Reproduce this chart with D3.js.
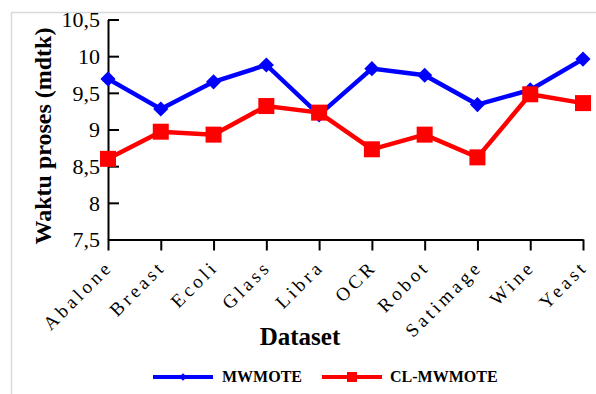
<!DOCTYPE html>
<html><head><meta charset="utf-8">
<script src="https://cdn.jsdelivr.net/npm/d3@7/dist/d3.min.js"></script>
<style>body{margin:0;background:#fff}svg{display:block;font-family:"Liberation Serif","Times New Roman",serif}</style>
</head><body><svg id="c" width="596" height="394"></svg>
<script>
const categories = ["Abalone","Breast","Ecoli","Glass","Libra","OCR","Robot","Satimage","Wine","Yeast"];
const mwmote = [9.69,9.28,9.65,9.88,9.20,9.83,9.74,9.34,9.54,9.96];
const clmwmote = [8.60,8.97,8.93,9.32,9.23,8.73,8.93,8.62,9.48,9.36];
const yTicks = [7.5,8,8.5,9,9.5,10,10.5];
const seriesNames = ["MWMOTE","CL-MWMOTE"];

const svg = d3.select("#c");
// frame
svg.append("path").attr("d","M11.5,394V12.5H596").attr("fill","none").attr("stroke","#d9d9d9").attr("stroke-width",1.5);

const x = d3.scalePoint().domain(categories).range([108,583]).padding(0);
const y = d3.scaleLinear().domain([7.5,10.5]).range([239.5,19.5]);
const fmt = d => String(d).replace(".",",");

// y axis
const ya = svg.append("g").attr("transform","translate(108,0)")
  .call(d3.axisLeft(y).tickValues(yTicks).tickFormat(fmt).tickSizeInner(-11).tickSizeOuter(0).tickPadding(8));
ya.select(".domain").attr("stroke","#000").attr("stroke-width",2);
ya.selectAll(".tick line").attr("stroke","#000").attr("stroke-width",2);
ya.selectAll(".tick text").attr("font-size",22).attr("font-family","Liberation Serif").attr("fill","#000").attr("dy","0.34em");

// x axis
const ls = 3.6;
const xa = svg.append("g").attr("transform","translate(0,239.5)")
  .call(d3.axisBottom(x).tickSizeInner(11).tickSizeOuter(0).tickPadding(0));
xa.select(".domain").attr("stroke","#000").attr("stroke-width",2);
xa.selectAll(".tick line").attr("stroke","#000").attr("stroke-width",2);
xa.selectAll(".tick text").attr("font-size",19).attr("font-family","Liberation Serif").attr("fill","#000")
  .attr("letter-spacing",ls+"px").attr("text-anchor","end")
  .attr("y",0).attr("dy",0)
  .attr("transform",`translate(${3+ls*0.707},${31-ls*0.707}) rotate(-45)`);

// lines
const line = d3.line().x((d,i)=>x(categories[i])).y(d=>y(d));
svg.append("path").datum(mwmote).attr("d",line).attr("fill","none").attr("stroke","#0000ff").attr("stroke-width",4.5);
svg.append("path").datum(clmwmote).attr("d",line).attr("fill","none").attr("stroke","#ff0000").attr("stroke-width",4.5);

svg.append("g").selectAll("path").data(mwmote).join("path")
  .attr("transform",(d,i)=>`translate(${x(categories[i])},${y(d)}) rotate(45)`)
  .attr("d",d3.symbol().type(d3.symbolSquare).size(115)).attr("fill","#0000ff");
svg.append("g").selectAll("rect").data(clmwmote).join("rect")
  .attr("x",(d,i)=>x(categories[i])-8).attr("y",d=>y(d)-8).attr("width",16).attr("height",16).attr("fill","#ff0000");

// axis titles
svg.append("text").attr("x",300).attr("y",345).attr("text-anchor","middle").attr("font-weight","bold").attr("font-size",25).text("Dataset");
svg.append("text").attr("transform","translate(51,136) rotate(-90)").attr("text-anchor","middle").attr("font-weight","bold").attr("font-size",24).text("Waktu proses (mdtk)");

// legend
const lg = svg.append("g");
lg.append("line").attr("x1",153).attr("x2",213).attr("y1",377).attr("y2",377).attr("stroke","#0000ff").attr("stroke-width",4);
lg.append("path").attr("transform","translate(183,377) rotate(45)").attr("d",d3.symbol().type(d3.symbolSquare).size(30)).attr("fill","#0000ff");
lg.append("text").attr("x",222).attr("y",382).attr("font-weight","bold").attr("font-size",16).text(seriesNames[0]);
lg.append("line").attr("x1",322).attr("x2",382).attr("y1",377).attr("y2",377).attr("stroke","#ff0000").attr("stroke-width",4);
lg.append("rect").attr("x",347).attr("y",372).attr("width",10).attr("height",10).attr("fill","#ff0000");
lg.append("text").attr("x",390).attr("y",382).attr("font-weight","bold").attr("font-size",16).text(seriesNames[1]);
</script></body></html>
